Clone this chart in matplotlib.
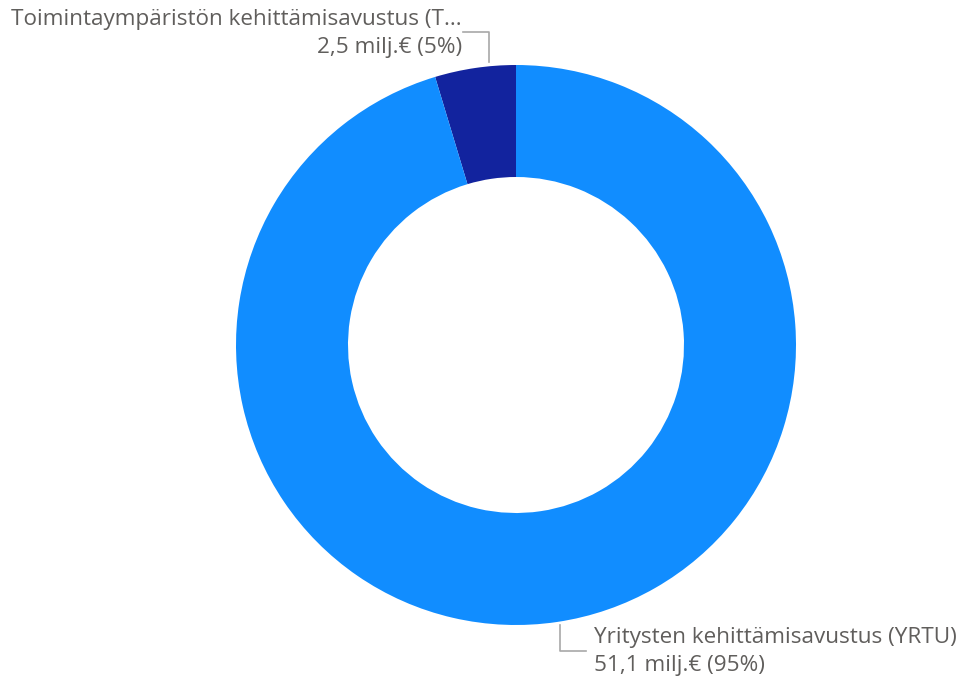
import matplotlib.pyplot as plt

categories = ["Toimintaympäristön kehittämisavustus (TEKE)", "Yritysten kehittämisavustus (YRTU)"]
short_labels = ["Toimintaympäristön kehittämisavustus (T...", "Yritysten kehittämisavustus (YRTU)"]
values = [2.5, 51.1]
value_labels = ["2,5 milj.€", "51,1 milj.€"]
colors = ["#12239E", "#118DFF"]

W, H = 958, 683
fig = plt.figure(figsize=(W / 100, H / 100), dpi=100)
ax = fig.add_axes([0, 0, 1, 1])
ax.set_xlim(0, W)
ax.set_ylim(H, 0)
ax.axis("off")

cx, cy, r = 516, 345, 280
total = sum(values)
pct = [round(v / total * 100) for v in values]

# pie on its own axes so the y-inversion doesn't flip it
pax = fig.add_axes([0, 0, 1, 1])
pax.pie(values, colors=colors, startangle=90, counterclock=True,
        center=(cx, H - cy), radius=r, frame=True,
        wedgeprops=dict(width=r * 0.4, linewidth=0))
pax.set_xlim(0, W)
pax.set_ylim(0, H)
pax.set_aspect("auto")
pax.axis("off")

txt = "#605E5C"
line_c = "#A8A8A8"
fs = 16.2
fam = ["Open Sans", "DejaVu Sans"]

# top-left label (small slice)
ax.plot([463, 489, 489], [32, 32, 62], color=line_c, lw=1.2)
ax.text(462, 20, short_labels[0], ha="right", va="center", fontsize=fs, color=txt, family=fam)
ax.text(462, 47, f"{value_labels[0]} ({pct[0]}%)", ha="right", va="center", fontsize=fs, color=txt, family=fam)

# bottom-right label (big slice)
ax.plot([560, 560, 586], [625, 651, 651], color=line_c, lw=1.2)
ax.text(594, 638, short_labels[1], ha="left", va="center", fontsize=fs, color=txt, family=fam)
ax.text(594, 666, f"{value_labels[1]} ({pct[1]}%)", ha="left", va="center", fontsize=fs, color=txt, family=fam)

fig.savefig("out.png", dpi=100)
